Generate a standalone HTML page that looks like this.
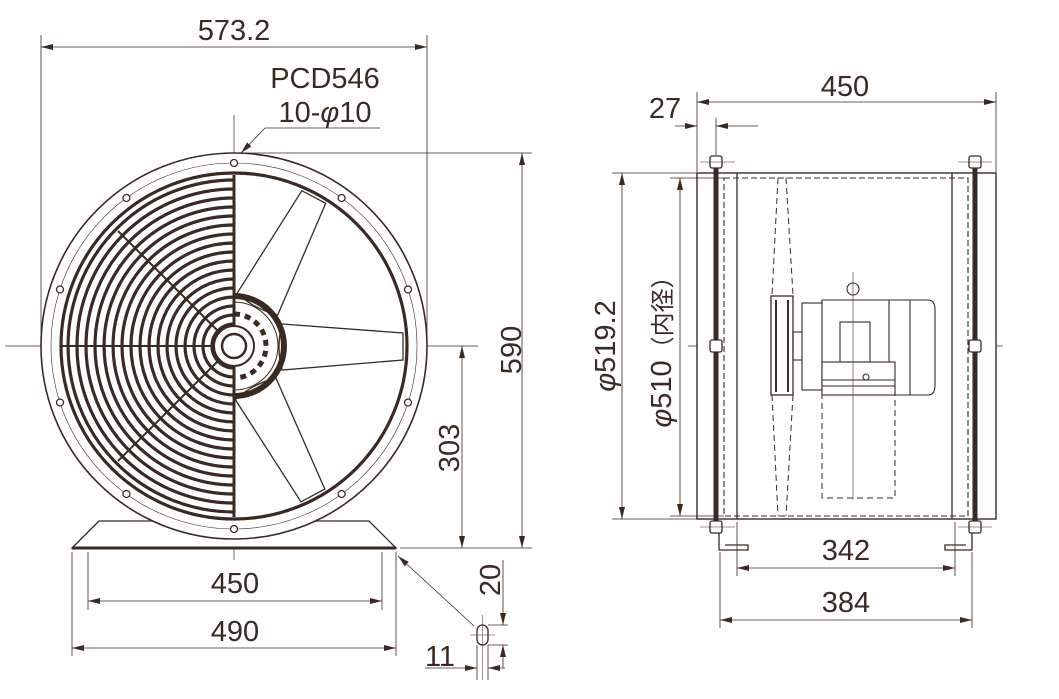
<!DOCTYPE html>
<html><head><meta charset="utf-8"><style>
html,body{margin:0;padding:0;background:#fff;}
svg{display:block;}
text{font-family:"Liberation Sans","Noto Sans CJK JP",sans-serif;fill:#3a2a22;}
</style></head><body>
<svg width="1059" height="699" viewBox="0 0 1059 699" xmlns="http://www.w3.org/2000/svg">
<defs>
<marker id="a" viewBox="0 0 12 6" refX="12" refY="3" markerWidth="12" markerHeight="6" orient="auto-start-reverse" markerUnits="userSpaceOnUse"><path d="M0,0 L12,3 L0,6 Z" fill="#3a2a22"/></marker>
</defs>
<g stroke="#3a2a22" fill="none">
<line x1="5" y1="346" x2="478" y2="346" stroke-width="0.7"/>
<line x1="234" y1="115" x2="234" y2="560" stroke-width="0.7"/>
<path d="M99,521 L369,521 L396,548 L72,548 Z" stroke-width="1.3" fill="#fff"/>
<line x1="72" y1="548" x2="396" y2="548" stroke-width="3"/>
<circle cx="234" cy="346" r="193" stroke-width="1.6" fill="#fff"/>
<circle cx="234" cy="346" r="183" stroke-width="0.6"/>
<circle cx="234" cy="346" r="173" stroke-width="3.2"/>
<g stroke-width="1.3" fill="#fff">
<circle cx="234" cy="163" r="3.5"/><circle cx="341.6" cy="198" r="3.5"/><circle cx="408" cy="289.5" r="3.5"/><circle cx="408" cy="402.5" r="3.5"/><circle cx="341.6" cy="494" r="3.5"/><circle cx="234" cy="529" r="3.5"/><circle cx="126.4" cy="494" r="3.5"/><circle cx="60" cy="402.5" r="3.5"/><circle cx="60" cy="289.5" r="3.5"/><circle cx="126.4" cy="198" r="3.5"/>
</g>
<g stroke-width="3.2">
<path d="M234,180 A166,166 0 0 0 234,512"/>
<path d="M234,189 A157,157 0 0 0 234,503"/>
<path d="M234,198 A148,148 0 0 0 234,494"/>
<path d="M234,207 A139,139 0 0 0 234,485"/>
<path d="M234,216 A130,130 0 0 0 234,476"/>
<path d="M234,225 A121,121 0 0 0 234,467"/>
<path d="M234,234 A112,112 0 0 0 234,458"/>
<path d="M234,243 A103,103 0 0 0 234,449"/>
<path d="M234,252 A94,94 0 0 0 234,440"/>
<path d="M234,261 A85,85 0 0 0 234,431"/>
<path d="M234,270 A76,76 0 0 0 234,422"/>
<path d="M234,279 A67,67 0 0 0 234,413"/>
<path d="M234,288 A58,58 0 0 0 234,404"/>
<path d="M234,297 A49,49 0 0 0 234,395"/>
<path d="M234,306 A40,40 0 0 0 234,386"/>
<path d="M234,315 A31,31 0 0 0 234,377"/>
<path d="M234,324 A22,22 0 0 0 234,368"/>
</g>
<line x1="234" y1="175" x2="234" y2="517" stroke-width="3"/>
<g stroke-width="2">
<line x1="62" y1="346" x2="215" y2="346"/>
<line x1="118" y1="231" x2="220" y2="333"/>
<line x1="118" y1="461" x2="220" y2="359"/>
</g>
<g stroke-width="1.3" fill="#fff">
<path d="M282,324 L403,333 L403,360 L282,370 Q276,347 282,324 Z"/>
<path d="M282,324 L403,333 L403,360 L282,370 Q276,347 282,324 Z" transform="rotate(-62 234 346)"/>
<path d="M282,324 L403,333 L403,360 L282,370 Q276,347 282,324 Z" transform="rotate(62 234 346)"/>
</g>
<path d="M234,296 A50,50 0 0 1 234,396" stroke-width="6"/>
<path d="M234,302 A44,44 0 0 1 234,390" stroke-width="1"/>
<path d="M234,314 A32,32 0 0 1 234,378" stroke-width="5" stroke-dasharray="6 5"/>
<circle cx="234" cy="346" r="20" stroke-width="2" fill="#fff"/>
<circle cx="234" cy="346" r="12" stroke-width="2.5" fill="#fff"/>

<g stroke-width="0.8">
<line x1="41" y1="35" x2="41" y2="346"/>
<line x1="427" y1="35" x2="427" y2="346"/>
<line x1="41" y1="47" x2="427" y2="47" marker-start="url(#a)" marker-end="url(#a)"/>
<line x1="240" y1="153" x2="532" y2="153"/>
<line x1="400" y1="548" x2="532" y2="548"/>
<line x1="522" y1="153" x2="522" y2="548" marker-start="url(#a)" marker-end="url(#a)"/>
<line x1="462" y1="346" x2="462" y2="548" marker-start="url(#a)" marker-end="url(#a)"/>
<line x1="380" y1="128" x2="265" y2="128"/>
<line x1="265" y1="128" x2="241" y2="153" marker-end="url(#a)"/>
<line x1="88" y1="552" x2="88" y2="610"/>
<line x1="382" y1="552" x2="382" y2="610"/>
<line x1="88" y1="601" x2="382" y2="601" marker-start="url(#a)" marker-end="url(#a)"/>
<line x1="72" y1="552" x2="72" y2="656"/>
<line x1="396" y1="552" x2="396" y2="656"/>
<line x1="72" y1="648" x2="396" y2="648" marker-start="url(#a)" marker-end="url(#a)"/>
<line x1="474" y1="626" x2="398" y2="556" marker-end="url(#a)"/>
<rect x="477" y="625" width="11" height="20" rx="5.5" stroke-width="1.3" fill="#fff"/>
<line x1="470" y1="635" x2="495" y2="635" stroke-width="0.5"/>
<line x1="482.5" y1="615" x2="482.5" y2="680" stroke-width="0.5"/>
<line x1="488" y1="625" x2="508" y2="625"/>
<line x1="488" y1="645" x2="508" y2="645"/>
<line x1="503" y1="560" x2="503" y2="625" marker-end="url(#a)"/>
<line x1="503" y1="668" x2="503" y2="645" marker-end="url(#a)"/>
<line x1="477" y1="645" x2="477" y2="680"/>
<line x1="488" y1="645" x2="488" y2="680"/>
<line x1="425" y1="668" x2="477" y2="668" marker-end="url(#a)"/>
<line x1="505" y1="668" x2="488" y2="668" marker-end="url(#a)"/>
</g>

<line x1="688" y1="346" x2="1003" y2="346" stroke-width="0.7"/>
<rect x="697" y="173" width="299" height="346" stroke-width="1.4" fill="#fff"/>
<line x1="737" y1="173" x2="737" y2="519" stroke-width="1.3"/>
<line x1="952" y1="173" x2="952" y2="519" stroke-width="1.3"/>
<rect x="724" y="178" width="244" height="338" stroke-width="1.1" stroke-dasharray="6 3"/>
<line x1="716" y1="157" x2="716" y2="533" stroke-width="5"/>
<line x1="975" y1="157" x2="975" y2="533" stroke-width="5"/>
<g stroke-width="1.3" fill="#fff">
<rect x="710" y="156" width="12" height="12" rx="2"/><rect x="710" y="340" width="12" height="12" rx="2"/><rect x="710" y="521" width="12" height="12" rx="2"/>
<rect x="969" y="156" width="12" height="12" rx="2"/><rect x="969" y="340" width="12" height="12" rx="2"/><rect x="969" y="521" width="12" height="12" rx="2"/>
</g>
<g stroke-width="0.6"><line x1="700" y1="162" x2="735" y2="162"/><line x1="700" y1="527" x2="735" y2="527"/><line x1="958" y1="162" x2="992" y2="162"/><line x1="958" y1="527" x2="992" y2="527"/></g>
<path d="M719,533 L719,550 L748,550 L748,545 L725,545" stroke-width="1.3"/>
<path d="M972,533 L972,550 L945,550 L945,545 L966,545" stroke-width="1.3"/>
<g stroke-width="1" stroke-dasharray="6 4">
<path d="M778,178 L772,295 M786,178 L793,295 M772,395 L778,516 M793,395 L786,516"/>
<rect x="822" y="393" width="73" height="105"/>
</g>
<rect x="771" y="296" width="22" height="99" stroke-width="1.3" fill="#fff"/>
<path d="M776,300 L776,392 M788,300 L788,392" stroke-width="2"/>
<rect x="793" y="332" width="10" height="28" stroke-width="1.1"/>
<g stroke-width="1.1" fill="#fff">
<rect x="802" y="303" width="20" height="87"/>
<path d="M822,300 L928,300 Q935,300 935,310 L935,385 Q935,395 928,395 L822,395 Z"/>
<line x1="889" y1="300" x2="889" y2="395"/>
<line x1="910" y1="300" x2="910" y2="395"/>
<rect x="840" y="322" width="30" height="40"/>
<rect x="822" y="362" width="73" height="33"/>
<line x1="822" y1="380" x2="895" y2="380"/><line x1="822" y1="386" x2="895" y2="386"/>
<circle cx="853" cy="289" r="6"/>
<circle cx="866" cy="377" r="3"/>
</g>
<line x1="853" y1="272" x2="853" y2="500" stroke-width="0.6"/>

<g stroke-width="0.8">
<line x1="697" y1="92" x2="697" y2="172"/>
<line x1="996" y1="92" x2="996" y2="172"/>
<line x1="716" y1="118" x2="716" y2="155"/>
<line x1="697" y1="102" x2="996" y2="102" marker-start="url(#a)" marker-end="url(#a)"/>
<line x1="675" y1="126" x2="697" y2="126" marker-end="url(#a)"/>
<line x1="758" y1="126" x2="716" y2="126" marker-end="url(#a)"/>
<line x1="612" y1="173" x2="697" y2="173"/>
<line x1="612" y1="519" x2="697" y2="519"/>
<line x1="670" y1="178" x2="724" y2="178"/>
<line x1="670" y1="516" x2="724" y2="516"/>
<line x1="622" y1="173" x2="622" y2="519" marker-start="url(#a)" marker-end="url(#a)"/>
<line x1="680" y1="178" x2="680" y2="516" marker-start="url(#a)" marker-end="url(#a)"/>
<line x1="737" y1="522" x2="737" y2="576"/>
<line x1="955" y1="522" x2="955" y2="576"/>
<line x1="737" y1="568" x2="955" y2="568" marker-start="url(#a)" marker-end="url(#a)"/>
<line x1="720" y1="552" x2="720" y2="628"/>
<line x1="972" y1="552" x2="972" y2="628"/>
<line x1="720" y1="620" x2="972" y2="620" marker-start="url(#a)" marker-end="url(#a)"/>
</g>
</g>
<g font-size="29">
<text x="234" y="40" text-anchor="middle">573.2</text>
<text x="325" y="88" text-anchor="middle">PCD546</text>
<text x="325" y="122" text-anchor="middle">10-<tspan font-style="italic">φ</tspan>10</text>
<text x="235" y="593" text-anchor="middle">450</text>
<text x="235" y="641" text-anchor="middle">490</text>
<text x="440" y="666" text-anchor="middle">11</text>
<text transform="translate(521,350) rotate(-90)" text-anchor="middle">590</text>
<text transform="translate(459,448) rotate(-90)" text-anchor="middle">303</text>
<text transform="translate(500,580) rotate(-90)" text-anchor="middle">20</text>
<text x="845" y="96" text-anchor="middle">450</text>
<text x="665" y="118" text-anchor="middle">27</text>
<text x="846" y="560" text-anchor="middle">342</text>
<text x="846" y="612" text-anchor="middle">384</text>
<text transform="translate(615,346) rotate(-90)" text-anchor="middle"><tspan font-style="italic">φ</tspan>519.2</text>
<text transform="translate(671,346) rotate(-90)" text-anchor="middle"><tspan font-style="italic">φ</tspan>510<tspan font-size="24">（内径）</tspan></text>
</g>
</svg>
</body></html>
